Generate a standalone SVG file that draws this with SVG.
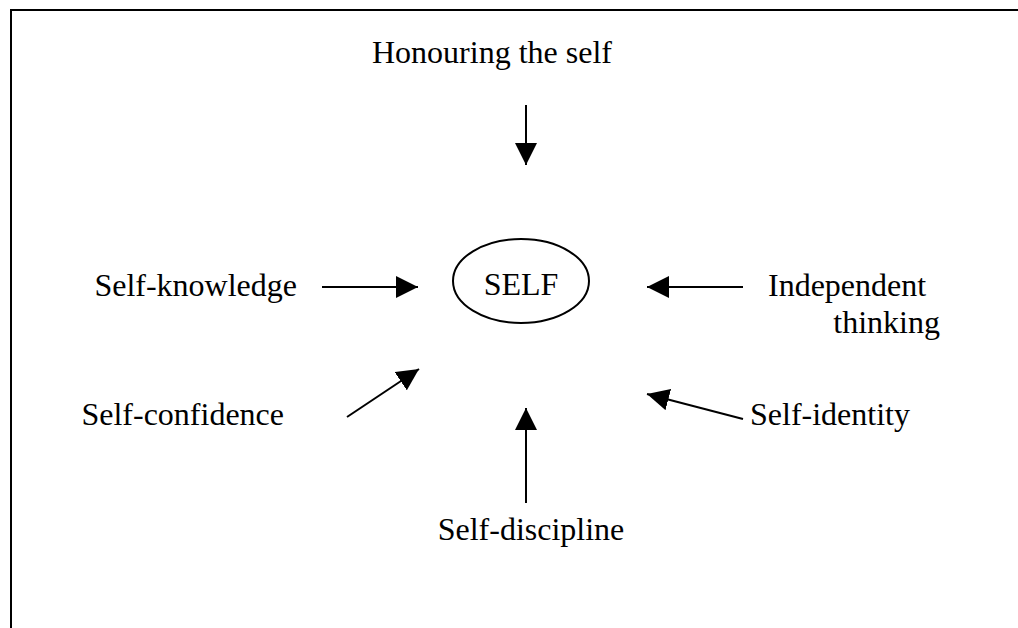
<svg xmlns="http://www.w3.org/2000/svg" width="1018" height="628" viewBox="0 0 1018 628">
<style>
text{font-family:"Liberation Serif","Times New Roman",serif;font-size:32px;fill:#000}
.c line{stroke:#000;stroke-width:2}
</style>
<defs>
<marker id="ah" markerUnits="userSpaceOnUse" markerWidth="22" markerHeight="22" refX="20" refY="10" orient="auto" viewBox="0 0 20 20">
<path d="M0,0 L20,10 L0,20 Z" fill="#000"/>
</marker>
</defs>
<rect width="1018" height="628" fill="#fff"/>
<path d="M11,628 V10 H1018" fill="none" stroke="#000" stroke-width="2"/>
<g id="self"><ellipse cx="521" cy="281" rx="68" ry="42" fill="none" stroke="#000" stroke-width="2"/><text x="521" y="295" text-anchor="middle">SELF</text></g>
<g id="honouring"><text x="372" y="63">Honouring the self</text></g>
<g id="knowledge"><text x="297" y="296" text-anchor="end">Self-knowledge</text></g>
<g id="independent"><text x="768" y="296">Independent</text><text x="940" y="333" text-anchor="end">thinking</text></g>
<g id="confidence"><text x="284" y="425" text-anchor="end">Self-confidence</text></g>
<g id="identity"><text x="750" y="425">Self-identity</text></g>
<g id="discipline"><text x="531" y="540" text-anchor="middle">Self-discipline</text></g>
<g class="c" id="connectors">
<line x1="526" y1="105" x2="526" y2="165" marker-end="url(#ah)"/>
<line x1="322" y1="287" x2="418" y2="287" marker-end="url(#ah)"/>
<line x1="743" y1="287" x2="647" y2="287" marker-end="url(#ah)"/>
<line x1="347" y1="417" x2="419" y2="369" marker-end="url(#ah)"/>
<line x1="743" y1="419" x2="647" y2="394" marker-end="url(#ah)"/>
<line x1="526" y1="503" x2="526" y2="408" marker-end="url(#ah)"/>
</g>
</svg>
